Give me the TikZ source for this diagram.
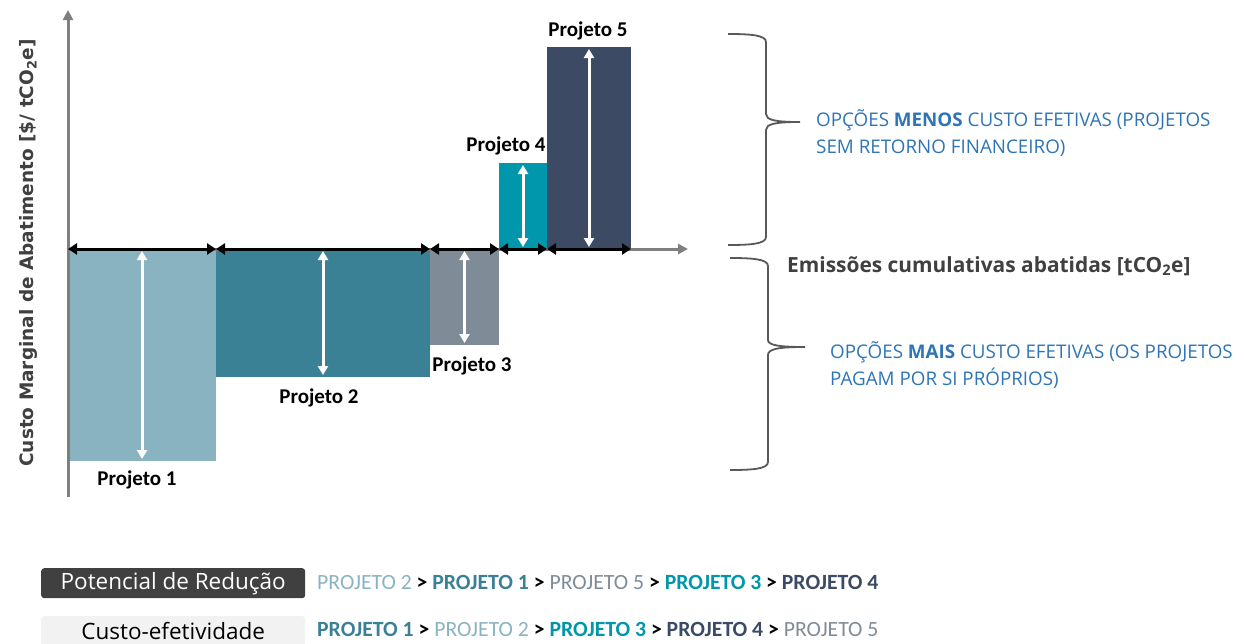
\documentclass[tikz,border=0pt]{standalone}
\usepackage{fontspec}
\usetikzlibrary{arrows.meta}
\newfontfamily\carlito{Carlito}
\newfontfamily\dejavu{DejaVu Sans}
\newfontfamily\opensans{Open Sans}
\definecolor{cA}{HTML}{8AB3C1}
\definecolor{cB}{HTML}{3A8196}
\definecolor{cC}{HTML}{808B98}
\definecolor{cD}{HTML}{0097AC}
\definecolor{cE}{HTML}{3C4B63}
\definecolor{bluetxt}{HTML}{2F75B5}
\definecolor{axisgray}{HTML}{7F7F7F}
\definecolor{bracegray}{HTML}{595959}
\definecolor{darkbox}{HTML}{404040}
\definecolor{lightbox}{HTML}{F2F2F2}
\begin{document}
\begin{tikzpicture}[x=1pt,y=-1pt,
  bar/.style={inner sep=0pt,outer sep=0pt,anchor=north west},
  axisline/.style={axisgray,line width=3pt,-{Triangle[length=10pt,width=10pt]}},
  warr/.style={white,line width=3pt,{Triangle[length=9pt,width=10pt]}-{Triangle[length=9pt,width=10pt]},shorten <=2pt,shorten >=2pt},
  barr/.style={black,line width=3pt,{Triangle[length=9pt,width=11pt]}-{Triangle[length=9pt,width=11pt]}},
  plabel/.style={font=\carlito\bfseries\fontsize{21}{24}\selectfont,inner sep=0pt},
  bluelbl/.style={font=\opensans\fontsize{18.8}{27}\selectfont,text=bluetxt,align=left,anchor=north west,inner sep=0pt},
  brace/.style={bracegray,line width=1.8pt},
  seq/.style={font=\carlito\fontsize{21.7}{24}\selectfont,anchor=west,inner sep=0pt},
  keybox/.style={rounded corners=3pt,minimum width=264pt,minimum height=30pt,inner sep=0pt,anchor=north west,font=\opensans\fontsize{22.5}{24}\selectfont}
]
\useasboundingbox (0,0) rectangle (1245,643);
% bars
\node[bar,fill=cA,minimum width=148pt,minimum height=212pt] (p1) at (68,249) {};
\node[bar,fill=cB,minimum width=214pt,minimum height=128pt] (p2) at (216,249) {};
\node[bar,fill=cC,minimum width=69pt,minimum height=96pt] (p3) at (430,249) {};
\node[bar,fill=cD,minimum width=48pt,minimum height=86pt,anchor=south west] (p4) at (499,249) {};
\node[bar,fill=cE,minimum width=84pt,minimum height=202pt,anchor=south west] (p5) at (547,249) {};
% axes
\coordinate (o) at (68,249);
\coordinate (ytop) at (68,10);
\coordinate (ybot) at (68,497);
\coordinate (xend) at (688,249);
\draw[axisline] (ybot) -- (ytop);
\draw[axisline] (o) -- (xend);
% white arrows
\draw[warr] (p1.north) -- (p1.south);
\draw[warr] (p2.north) -- (p2.south);
\draw[warr] (p3.north) -- (p3.south);
\draw[warr] (p4.north) -- (p4.south);
\draw[warr] (p5.north) -- (p5.south);
% black arrows
\draw[barr] (p1.north west) -- (p1.north east);
\draw[barr] (p2.north west) -- (p2.north east);
\draw[barr] (p3.north west) -- (p3.north east);
\draw[barr] (p4.south west) -- (p4.south east);
\draw[barr] (p5.south west) -- (p5.south east);
% labels
\node[plabel] (l1) at (137,480) {Projeto 1};
\node[plabel] (l2) at (319,398) {Projeto 2};
\node[plabel] (l3) at (472,366) {Projeto 3};
\node[plabel] (l4) at (506,146) {Projeto 4};
\node[plabel] (l5) at (588,31) {Projeto 5};
% y label
\node[rotate=90,font=\dejavu\bfseries\fontsize{18.5}{22}\selectfont,text=darkbox,inner sep=0pt] (ylab) at (28,253) {Custo Marginal de Abatimento [\$/ tCO\textsubscript{2}e]};
% x label
\node[font=\opensans\bfseries\fontsize{20.9}{24}\selectfont,text=darkbox,anchor=west,inner sep=0pt] (xlab) at (787,266) {Emissões cumulativas abatidas [tCO\textsubscript{2}e]};
% braces
\draw[brace] (728,34) .. controls (750,34) and (766,35) .. (766,42) -- (766,114) .. controls (766,120) and (775,122) .. (800,122)
  .. controls (775,122) and (766,124) .. (766,130) -- (766,237) .. controls (766,244) and (750,245) .. (728,245);
\draw[brace] (730,258) .. controls (752,258) and (768,259) .. (768,266) -- (768,340) .. controls (768,345) and (778,347) .. (805,347)
  .. controls (778,347) and (768,349) .. (768,355) -- (768,462) .. controls (768,469) and (752,470) .. (730,470);
\node[bluelbl] (t1) at (816,109) {OPÇÕES \textbf{MENOS} CUSTO EFETIVAS (PROJETOS\\SEM RETORNO FINANCEIRO)};
\node[bluelbl] (t2) at (830,341) {OPÇÕES \textbf{MAIS} CUSTO EFETIVAS (OS PROJETOS\\PAGAM POR SI PRÓPRIOS)};
% bottom key
\node[keybox,fill=darkbox,text=white] (k1) at (41,568) {Potencial de Redução};
\node[keybox,fill=lightbox,text=black] (k2) at (41,616) {Custo-efetividade};
\node[seq] (s1) at (317,582) {\textcolor{cA}{PROJETO 2} \textbf{>} \textcolor{cB}{\textbf{PROJETO 1}} \textbf{>} \textcolor{cC}{PROJETO 5} \textbf{>} \textcolor{cD}{\textbf{PROJETO 3}} \textbf{>} \textcolor{cE}{\textbf{PROJETO 4}}};
\node[seq] (s2) at (317,629) {\textcolor{cB}{\textbf{PROJETO 1}} \textbf{>} \textcolor{cA}{PROJETO 2} \textbf{>} \textcolor{cD}{\textbf{PROJETO 3}} \textbf{>} \textcolor{cE}{\textbf{PROJETO 4}} \textbf{>} \textcolor{cC}{PROJETO 5}};
\end{tikzpicture}
\end{document}
